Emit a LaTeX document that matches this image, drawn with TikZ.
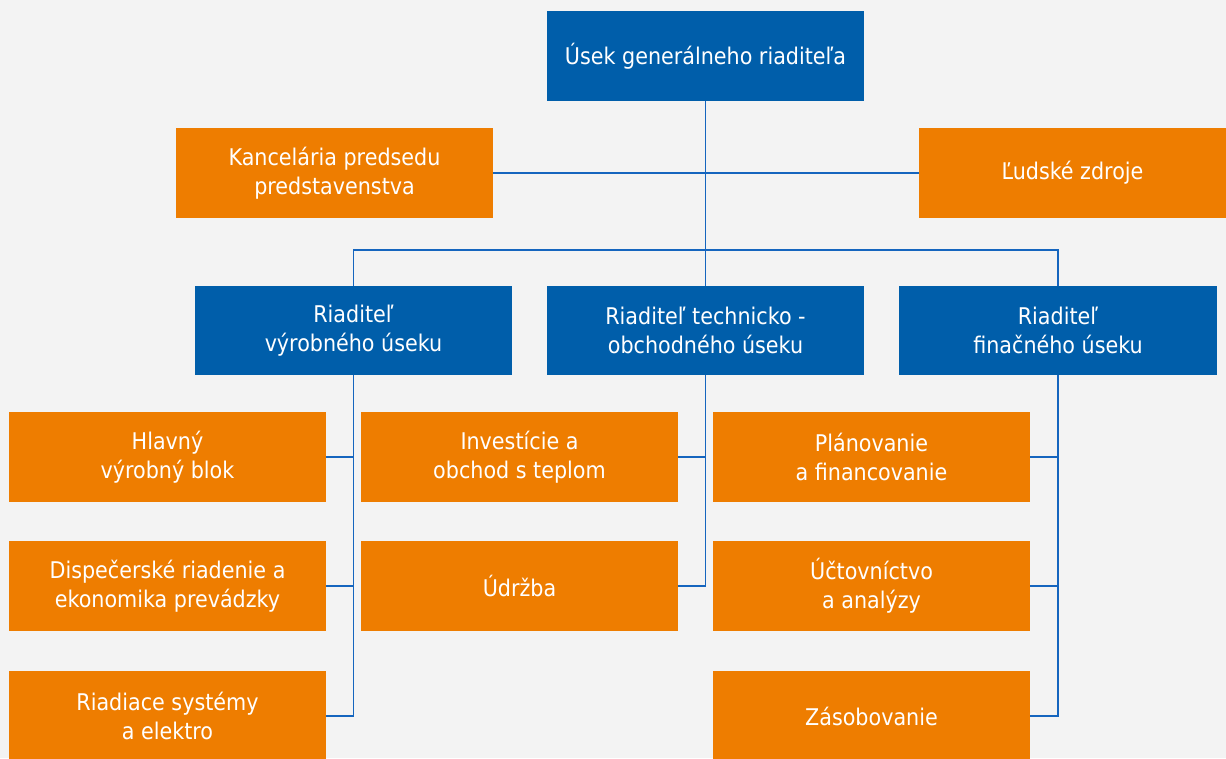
\documentclass[tikz,border=0pt]{standalone}
\usepackage{fontspec}
\setmainfont{DejaVu Sans Condensed}
\definecolor{bgc}{HTML}{F3F3F3}
\definecolor{bluebox}{HTML}{005EAA}
\definecolor{orangebox}{HTML}{EE7D00}
\definecolor{linec}{HTML}{1565BE}
\begin{document}
\begin{tikzpicture}[x=1pt,y=-1pt,
  box/.style={minimum width=317pt, minimum height=90pt, inner sep=0pt, align=center,
    text=white, font=\fontsize{23}{29}\selectfont},
  bbox/.style={box, fill=bluebox},
  obox/.style={box, fill=orangebox},
  conn/.style={draw=linec, line width=1.8pt}]
\fill[bgc] (0,0) rectangle (1226,758);
\useasboundingbox (0,0) rectangle (1226,758);
\begin{scope}
\clip (0,0) rectangle (1226,758);
% top
\node[bbox] (top) at (705.5,56) {Úsek generálneho riaditeľa};
\node[obox] (kanc) at (334.5,173) {Kancelária predsedu\\predstavenstva};
\node[obox, minimum width=307pt] (lz) at (1072.5,173) {Ľudské zdroje};
% directors
\node[bbox, minimum height=89pt] (b1) at (353.5,330.5) {Riaditeľ\\výrobného úseku};
\node[bbox, minimum height=89pt] (b2) at (705.5,330.5) {Riaditeľ technicko -\\obchodného úseku};
\node[bbox, minimum height=89pt, minimum width=318pt] (b3) at (1058,330.5) {Riaditeľ\\finačného úseku};
% left column
\node[obox] (l1) at (167.5,457) {Hlavný\\výrobný blok};
\node[obox] (l2) at (167.5,586) {Dispečerské riadenie a\\ekonomika prevádzky};
\node[obox] (l3) at (167.5,716) {Riadiace systémy\\a elektro};
% middle column
\node[obox] (m1) at (519.5,457) {Investície a\\obchod s teplom};
\node[obox] (m2) at (519.5,586) {Údržba};
% right column
\node[obox] (r1) at (871.5,457) {Plánovanie\\a financovanie};
\node[obox] (r2) at (871.5,586) {Účtovníctvo\\a analýzy};
\node[obox] (r3) at (871.5,716) {Zásobovanie};
% connectors
\draw[conn] (top.south) -- (b2.north);
\draw[conn] (kanc.east) -- (lz.west);
\draw[conn] (b1.north) -- ++(0,-36) -| (b3.north);
\draw[conn] (b1.south) |- (l3.east);
\draw[conn] (l1.east) -- (l1.east -| b1.south);
\draw[conn] (l2.east) -- (l2.east -| b1.south);
\draw[conn] (b2.south) |- (m2.east);
\draw[conn] (m1.east) -- (m1.east -| b2.south);
\draw[conn] (b3.south) |- (r3.east);
\draw[conn] (r1.east) -- (r1.east -| b3.south);
\draw[conn] (r2.east) -- (r2.east -| b3.south);
\end{scope}
\end{tikzpicture}
\end{document}
